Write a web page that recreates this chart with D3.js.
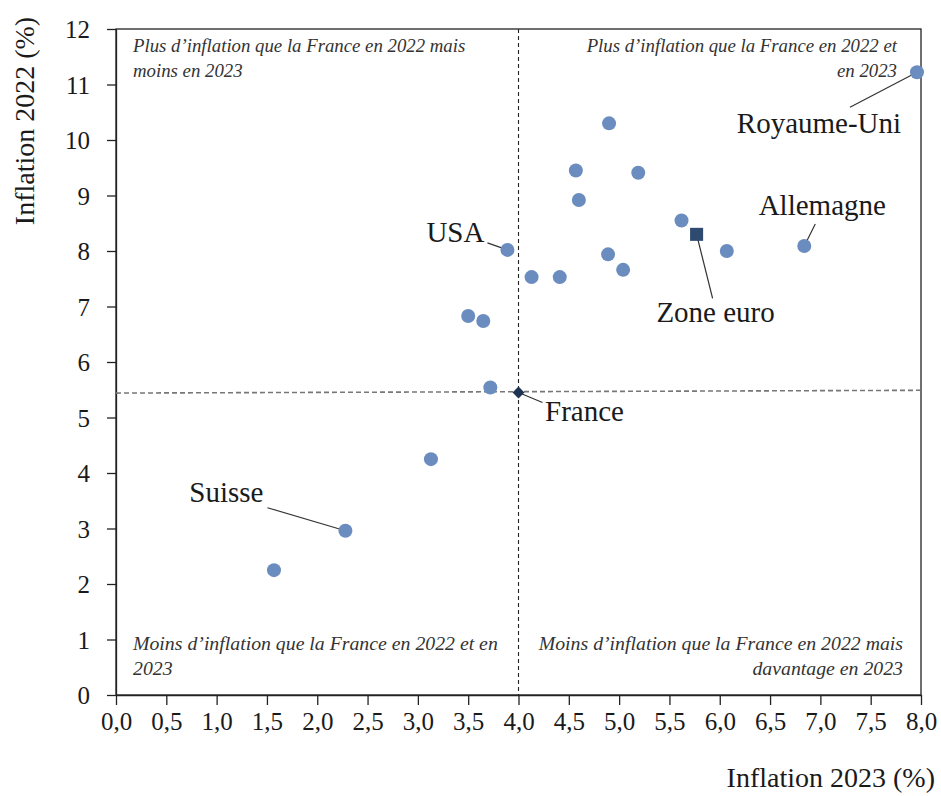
<!DOCTYPE html>
<html>
<head>
<meta charset="utf-8">
<script src="https://cdn.jsdelivr.net/npm/d3@7"></script>
<style>
  body { margin: 0; background: #fff; }
  text { font-family: "Liberation Serif", "DejaVu Serif", serif; fill: #1a1a1a; }
</style>
</head>
<body>
<svg id="chart" width="941" height="796"></svg>
<script>
// data (inflation in %)
const names = ["Royaume-Uni", "", "", "", "", "", "Zone euro", "", "Allemagne", "USA", "", "", "", "", "", "", "", "France", "", "Suisse", ""];
const infl2023 = [7.96, 4.90, 4.57, 5.19, 4.60, 5.62, 5.77, 6.07, 6.84, 3.89, 4.89, 5.04, 4.13, 4.41, 3.50, 3.65, 3.72, 4.00, 3.13, 2.28, 1.57];
const infl2022 = [11.22, 10.30, 9.45, 9.41, 8.92, 8.55, 8.30, 8.00, 8.09, 8.02, 7.94, 7.66, 7.53, 7.53, 6.83, 6.74, 5.54, 5.45, 4.25, 2.96, 2.25];

const xTicks = d3.range(0, 8.01, 0.5);
const yTicks = d3.range(0, 13, 1);
const franceX = 4.0;
const franceLineY = [5.44, 5.49]; // horizontal guide, a bit tilted in the original

const quadrantText = [
  {lines: ["Plus d’inflation que la France en 2022 mais", "moins en 2023"], pos: "tl"},
  {lines: ["Plus d’inflation que la France en 2022 et", "en 2023"], pos: "tr"},
  {lines: ["Moins d’inflation que la France en 2022 et en", "2023"], pos: "bl"},
  {lines: ["Moins d’inflation que la France en 2022 mais", "davantage en 2023"], pos: "br"}
];

// label placement (pixels, relative to the point)
const labelPos = {
  "Royaume-Uni": {lx: -67, ly: 35, tx: -98, ty: 61},
  "Allemagne": {lx: 11, ly: -22, tx: 18, ty: -31},
  "USA": {lx: -20, ly: -7, tx: -52, ty: -8},
  "Zone euro": {lx: 16, ly: 64, tx: 19, ty: 88},
  "France": {lx: 24, ly: 10, tx: 66, ty: 28},
  "Suisse": {lx: -78, ly: -23, tx: -119, ty: -29}
};

const data = names.map((n, i) => ({name: n, x: infl2023[i], y: infl2022[i]}));

const margin = {top: 29, right: 20, bottom: 101, left: 116};
const width = 941, height = 796;
const svg = d3.select("#chart");

const x = d3.scaleLinear().domain([0, 8]).range([margin.left, width - margin.right]);
const y = d3.scaleLinear().domain([0, 12]).range([height - margin.bottom, margin.top]);

const fr = d3.formatLocale({decimal: ",", thousands: " ", grouping: [3], currency: ["", "€"]});

// frame
svg.append("rect")
  .attr("x", x(0)).attr("y", y(12))
  .attr("width", x(8) - x(0)).attr("height", y(0) - y(12))
  .attr("fill", "none").attr("stroke", "#222").attr("stroke-width", 1.3);

// axes
const xAxis = svg.append("g")
  .attr("transform", `translate(0,${y(0)})`)
  .call(d3.axisBottom(x).tickValues(xTicks).tickSize(10).tickSizeOuter(0).tickFormat(fr.format(".1f")));
const yAxis = svg.append("g")
  .attr("transform", `translate(${x(0)},0)`)
  .call(d3.axisLeft(y).tickValues(yTicks).tickSize(9).tickSizeOuter(0).tickFormat(d3.format("d")));

[xAxis, yAxis].forEach(g => {
  g.select(".domain").attr("stroke", "#222").attr("stroke-width", 1.3);
  g.selectAll(".tick line").attr("stroke", "#222").attr("stroke-width", 1.3);
  g.selectAll(".tick text").attr("font-size", 25).attr("fill", "#1a1a1a")
    .style("font-family", '"Liberation Serif", serif');
});
xAxis.selectAll(".tick text").attr("dy", null).attr("y", 35);
yAxis.selectAll(".tick text").attr("x", -26).attr("dy", "0.35em");

// axis titles
svg.append("text")
  .attr("x", 935).attr("y", 787)
  .attr("text-anchor", "end").attr("font-size", 28)
  .text("Inflation 2023 (%)");
svg.append("text")
  .attr("transform", "translate(34,121) rotate(-90)")
  .attr("text-anchor", "middle").attr("font-size", 28)
  .text("Inflation 2022 (%)");

// guides through France
svg.append("line")
  .attr("x1", x(franceX)).attr("x2", x(franceX))
  .attr("y1", y(12)).attr("y2", y(0))
  .attr("stroke", "#222").attr("stroke-width", 1.1).attr("stroke-dasharray", "4,3");
svg.append("line")
  .attr("x1", x(0)).attr("x2", x(8))
  .attr("y1", y(franceLineY[0])).attr("y2", y(franceLineY[1]))
  .attr("stroke", "#777").attr("stroke-width", 1.6).attr("stroke-dasharray", "5,3");

// quadrant notes
const qg = svg.append("g").attr("font-style", "italic");
quadrantText.forEach(q => {
  const right = q.pos[1] === "r";
  const top = q.pos[0] === "t";
  const tx = right ? x(8) - (top ? 24 : 18) : x(0) + 17;
  const ty = top ? y(12) + 23 : y(0) - 45;
  q.lines.forEach((l, i) => {
    qg.append("text")
      .attr("x", tx).attr("y", ty + i * 25)
      .attr("text-anchor", right ? "end" : "start")
      .attr("font-size", top ? 18.8 : 19.8)
      .style("fill", "#333")
      .text(l);
  });
});

// leader lines
const labelled = data.filter(d => labelPos[d.name]);
svg.append("g").selectAll("line")
  .data(labelled)
  .enter().append("line")
    .attr("x1", d => x(d.x)).attr("y1", d => y(d.y))
    .attr("x2", d => x(d.x) + labelPos[d.name].lx)
    .attr("y2", d => y(d.y) + labelPos[d.name].ly)
    .attr("stroke", "#333").attr("stroke-width", 1.2);

// points
const pts = svg.append("g");
pts.selectAll("circle")
  .data(data.filter(d => d.name !== "Zone euro" && d.name !== "France"))
  .enter().append("circle")
    .attr("cx", d => x(d.x)).attr("cy", d => y(d.y))
    .attr("r", 7)
    .attr("fill", "#6b8cbf");
pts.selectAll("path")
  .data(data.filter(d => d.name === "Zone euro" || d.name === "France"))
  .enter().append("path")
    .attr("transform", d => `translate(${x(d.x)},${y(d.y)})`)
    .attr("d", d => d.name === "Zone euro"
      ? d3.symbol(d3.symbolSquare, 170)()
      : d3.symbol(d3.symbolDiamond2, 90)())
    .attr("fill", d => d.name === "Zone euro" ? "#2e4a6f" : "#1f3452");

// country labels
svg.append("g").selectAll("text")
  .data(labelled)
  .enter().append("text")
    .attr("x", d => x(d.x) + labelPos[d.name].tx)
    .attr("y", d => y(d.y) + labelPos[d.name].ty)
    .attr("text-anchor", "middle")
    .attr("font-size", 29)
    .text(d => d.name);
</script>
</body>
</html>
